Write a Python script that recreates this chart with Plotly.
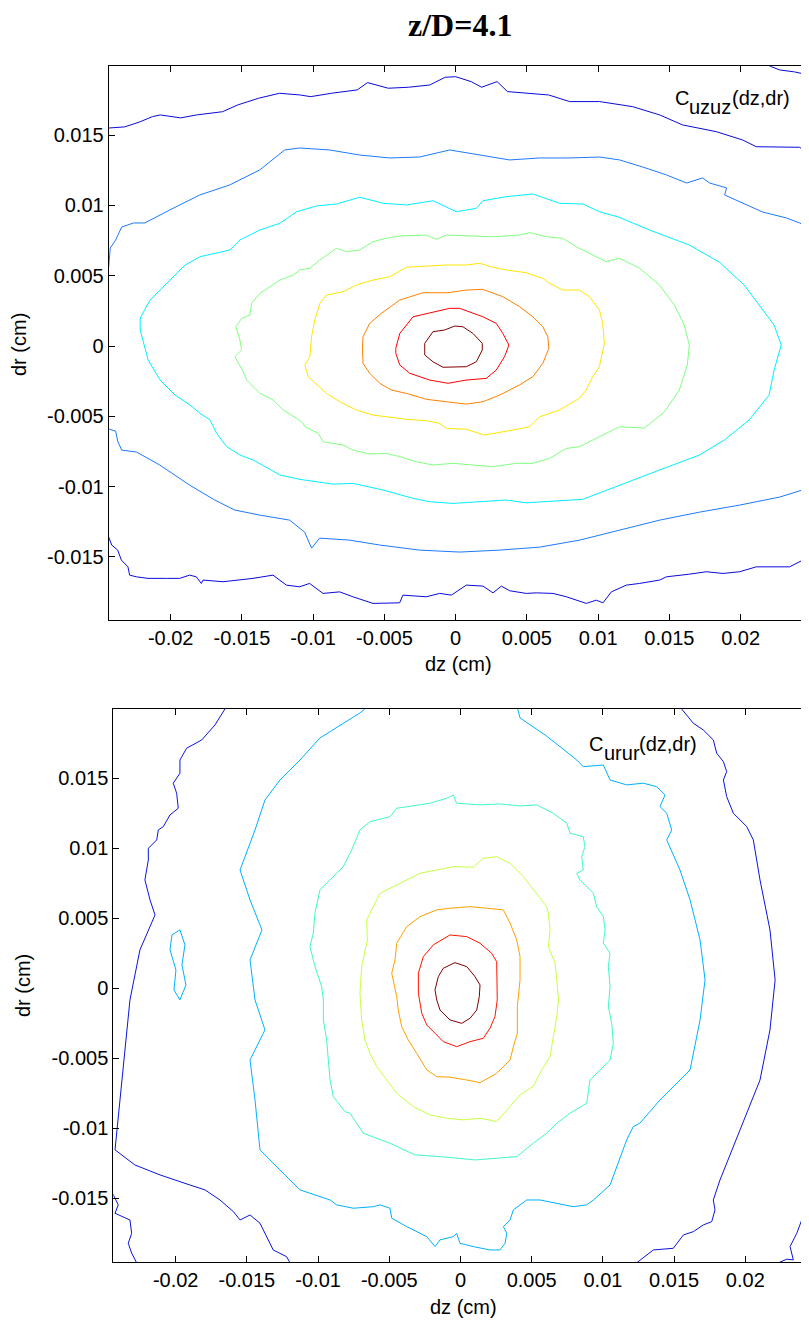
import plotly.graph_objects as go

# All contour coordinates are (dz, dr) in units of 1e-3 cm
UNIT = 1e-3

X_TICKS = [-0.02, -0.015, -0.01, -0.005, 0, 0.005, 0.01, 0.015, 0.02]
X_TICKTEXT = ["-0.02", "-0.015", "-0.01", "-0.005", "0", "0.005", "0.01", "0.015", "0.02"]
Y_TICKS = [-0.015, -0.01, -0.005, 0, 0.005, 0.01, 0.015]
Y_TICKTEXT = ["-0.015", "-0.01", "-0.005", "0", "0.005", "0.01", "0.015"]

# ---------------- C_uzuz (top panel) ----------------
UZ_L8 = [(-2.17, 0.19), (-1.59, 1.02), (-0.77, 1.14), (-0.07, 1.42), (0.51, 1.37), (1.21, 0.90), (1.87, 0.19),
         (1.87, -0.28), (1.45, -1.12), (0.75, -1.47), (-0.89, -1.51), (-1.59, -1.12), (-2.17, -0.64)]
UZ_L7 = [(-4.20, -0.16), (-3.92, 0.90), (-2.99, 2.08), (-1.82, 2.33), (-0.42, 2.68), (0.28, 2.68), (1.91, 2.08),
         (2.85, 1.61), (3.31, 0.90), (3.74, 0.07), (3.43, -0.76), (2.85, -1.71), (2.15, -2.30), (0.75, -2.42),
         (-0.54, -2.65), (-1.82, -2.42), (-3.22, -1.94), (-3.92, -1.35), (-4.20, -0.52)]
UZ_L6 = [(-6.54, -0.16), (-6.50, 0.66), (-6.03, 1.61), (-5.21, 2.33), (-3.92, 3.27), (-2.29, 3.79), (-0.54, 3.79),
         (0.75, 3.98), (1.91, 4.03), (3.31, 3.51), (4.48, 2.80), (5.42, 2.08), (6.12, 1.37), (6.47, 0.66),
         (6.54, -0.16), (6.12, -1.23), (5.42, -2.18), (4.48, -2.77), (3.08, -3.49), (1.91, -3.96), (0.75, -4.13),
         (-1.12, -3.89), (-2.05, -3.79), (-3.45, -3.37), (-4.51, -3.13), (-5.33, -2.65), (-6.03, -1.94), (-6.50, -1.23)]
UZ_L5 = [(-10.58, -1.35), (-10.23, -0.76), (-10.11, 0.66), (-9.88, 1.85), (-9.53, 3.04), (-9.06, 3.63), (-7.90, 3.86),
         (-6.96, 4.34), (-5.80, 4.69), (-4.63, 4.93), (-3.45, 5.60), (-2.05, 5.69), (-0.65, 5.76), (0.75, 5.76),
         (1.68, 5.88), (2.61, 5.60), (3.55, 5.41), (4.95, 5.21), (6.12, 4.81), (6.59, 4.46), (7.52, 3.98), (8.69, 3.98),
         (9.39, 3.51), (10.09, 2.56), (10.32, 1.61), (10.44, 0.19), (10.09, -1.47), (9.62, -2.18), (9.16, -3.13),
         (8.69, -3.72), (7.29, -4.55), (5.89, -5.03), (5.19, -5.74), (4.02, -5.97), (2.61, -6.21), (2.03, -6.33),
         (0.75, -5.92), (-0.65, -5.85), (-1.12, -5.50), (-2.05, -5.31), (-3.45, -5.21), (-4.39, -5.07), (-5.80, -4.91),
         (-6.96, -4.55), (-8.13, -3.96), (-9.06, -3.37), (-9.88, -2.65), (-10.35, -2.18)]
UZ_L4 = [(-15.49, -0.76), (-15.02, -0.28), (-15.14, 0.43), (-15.42, 1.37), (-15.02, 1.97), (-14.44, 2.20),
         (-14.32, 3.04), (-13.74, 3.75), (-13.03, 4.22), (-12.33, 4.69), (-11.40, 5.05), (-10.93, 5.41),
         (-10.23, 5.53), (-9.53, 6.12), (-8.36, 6.95), (-7.66, 6.71), (-6.73, 6.83), (-5.80, 7.42), (-4.86, 7.66),
         (-3.92, 7.82), (-2.05, 7.89), (-1.35, 7.59), (-0.65, 7.89), (0.75, 7.82), (2.61, 7.77), (3.55, 7.82),
         (4.48, 7.89), (5.19, 8.06), (6.36, 7.77), (7.52, 7.66), (8.46, 7.06), (9.39, 6.59), (10.56, 6.00),
         (11.49, 6.24), (12.89, 5.55), (14.30, 4.34), (15.35, 2.92), (16.05, 1.49), (16.40, 0.07), (16.26, -1.35),
         (15.70, -3.13), (14.65, -4.69), (13.24, -5.83), (11.49, -5.74), (9.86, -6.56), (8.69, -7.16), (7.76, -7.28),
         (6.59, -7.99), (5.42, -8.34), (4.25, -8.34), (2.61, -8.58), (1.21, -8.46), (-0.19, -8.34), (-1.59, -8.46),
         (-2.75, -8.23), (-3.92, -7.87), (-4.86, -7.63), (-6.03, -7.68), (-7.20, -7.40), (-7.90, -7.04),
         (-9.30, -6.81), (-9.65, -6.21), (-10.58, -5.74), (-10.70, -5.50), (-11.16, -5.14), (-12.10, -4.55),
         (-12.80, -3.84), (-13.74, -3.37), (-14.20, -2.89), (-14.67, -2.42), (-14.91, -1.83)]
UZ_L3 = [(-22.14, 1.14), (-22.14, 1.99), (-21.44, 3.27), (-20.39, 4.34), (-18.99, 5.76), (-17.94, 6.35),
         (-15.84, 6.83), (-15.14, 7.54), (-13.74, 8.25), (-12.33, 8.73), (-11.16, 9.55), (-9.76, 9.96),
         (-8.36, 10.10), (-6.73, 10.58), (-5.09, 10.15), (-3.45, 10.03), (-1.59, 10.33), (0.05, 9.55), (1.45, 9.79),
         (1.91, 10.33), (3.55, 10.62), (5.42, 10.81), (7.29, 10.15), (8.92, 10.10), (10.09, 9.55), (11.49, 9.15),
         (13.60, 8.25), (16.40, 7.18), (18.50, 5.97), (20.25, 4.34), (21.30, 2.92), (22.35, 1.49), (22.85, 0.07),
         (22.35, -1.71), (22.00, -3.49), (20.60, -5.26), (18.85, -6.69), (17.10, -7.75), (14.30, -8.82),
         (11.49, -9.89), (10.09, -10.48), (8.92, -10.90), (7.29, -11.00), (4.95, -11.15), (3.55, -10.95),
         (1.21, -11.07), (-0.19, -11.19), (-1.82, -11.07), (-2.99, -10.83), (-5.09, -10.24), (-7.20, -9.77),
         (-8.60, -9.82), (-10.93, -9.48), (-12.33, -9.17), (-14.20, -8.11), (-15.14, -7.75), (-16.07, -7.16),
         (-16.77, -6.21), (-17.24, -5.26), (-17.94, -4.79), (-18.64, -4.20), (-19.69, -3.49), (-20.74, -2.42),
         (-21.58, -1.00)]
UZ_L2_TOP = [(-24.35, 5.62), (-24.24, 6.97), (-23.86, 7.54), (-23.44, 8.46), (-22.60, 8.75), (-21.82, 8.75),
             (-20.07, 9.67), (-17.96, 10.74), (-15.86, 11.45), (-13.75, 12.52), (-12.00, 13.94), (-10.95, 14.08),
             (-8.84, 13.94), (-6.74, 13.58), (-4.63, 13.37), (-2.53, 13.44), (-0.42, 13.94), (1.68, 13.58),
             (3.79, 13.23), (5.89, 13.37), (8.00, 13.37), (10.11, 13.44), (11.51, 13.23), (13.12, 12.73),
             (14.81, 12.16), (16.21, 11.59), (17.33, 11.95), (17.83, 11.59), (19.02, 11.24), (18.88, 10.74),
             (20.14, 10.17), (21.54, 9.53), (23.23, 9.10), (24.14, 8.75), (24.77, 8.39)]
UZ_L2_BOT = [(-24.35, -5.90), (-23.86, -6.05), (-23.72, -6.76), (-23.44, -7.40), (-22.39, -7.54), (-20.77, -8.46),
             (-18.67, -9.89), (-16.91, -10.95), (-15.51, -11.66), (-13.75, -12.02), (-11.65, -12.38),
             (-10.60, -13.23), (-10.11, -14.37), (-9.54, -13.66), (-7.44, -13.80), (-5.33, -14.15), (-2.53, -14.51),
             (0.28, -14.65), (3.09, -14.51), (5.89, -14.30), (8.70, -13.80), (11.51, -13.09), (14.32, -12.38),
             (17.12, -11.81), (19.93, -11.31), (22.74, -10.74), (24.77, -10.10)]
UZ_L1_TOP = [(-24.35, 15.50), (-23.23, 15.58), (-22.18, 15.93), (-21.28, 16.31), (-20.73, 16.43), (-19.30, 16.22),
             (-18.18, 16.43), (-16.36, 16.66), (-15.30, 17.14), (-13.82, 17.62), (-12.36, 17.97), (-10.91, 17.85),
             (-10.18, 17.73), (-8.73, 17.97), (-6.91, 18.21), (-6.18, 18.73), (-4.73, 18.33), (-3.30, 18.40),
             (-1.82, 18.56), (-0.73, 19.11), (0.00, 19.15), (1.09, 18.80), (1.82, 18.40), (2.91, 18.80),
             (3.64, 18.09), (5.09, 17.97), (6.53, 17.85), (8.00, 17.38), (10.11, 17.38), (12.42, 17.02),
             (14.32, 16.43), (15.93, 15.72), (18.29, 15.24), (20.14, 14.65), (21.10, 14.17), (24.14, 14.13),
             (24.77, 13.71)]
UZ_L1_CORNER = [(22.04, 19.91), (22.74, 19.63), (23.79, 19.49), (24.77, 19.27)]
UZ_L1_BOT = [(-24.35, -13.58), (-24.14, -14.15), (-23.72, -14.51), (-23.46, -15.22), (-23.00, -15.70),
             (-22.88, -16.29), (-22.41, -16.41), (-21.59, -16.52), (-20.30, -16.52), (-19.37, -16.52),
             (-18.67, -16.29), (-18.20, -16.41), (-17.85, -16.88), (-17.73, -16.64), (-16.33, -16.76),
             (-15.16, -16.64), (-14.22, -16.52), (-12.82, -16.29), (-11.88, -17.00), (-10.95, -17.12),
             (-10.25, -16.88), (-9.31, -17.59), (-8.14, -17.48), (-7.21, -17.83), (-5.80, -18.30), (-3.93, -18.26),
             (-3.70, -17.71), (-2.06, -17.83), (-1.12, -17.59), (-0.30, -17.71), (0.75, -17.00), (1.92, -17.07),
             (2.62, -17.55), (3.21, -17.07), (3.79, -17.40), (4.96, -17.59), (5.66, -17.55), (6.83, -17.59),
             (7.77, -17.83), (9.17, -18.30), (9.87, -18.07), (10.34, -18.26), (10.93, -17.48), (11.98, -17.00),
             (12.91, -16.88), (14.32, -16.64), (14.79, -16.41), (16.42, -16.22), (17.59, -16.05), (18.76, -16.17),
             (19.93, -16.05), (21.10, -15.70), (23.44, -15.70), (24.37, -15.22), (24.77, -14.94)]

# ---------------- C_urur (bottom panel) ----------------
UR_L7 = [(-0.39, 1.84), (0.44, 1.56), (1.02, 0.84), (1.37, 0.25), (1.32, -0.59), (1.14, -1.54), (0.67, -2.13),
         (0.08, -2.49), (-0.74, -2.25), (-1.44, -1.54), (-1.67, -0.82), (-1.79, -0.11), (-1.56, 0.84), (-1.21, 1.44)]
UR_L6 = [(-0.74, 3.82), (0.44, 3.70), (1.37, 3.23), (2.19, 2.51), (2.54, 1.91), (2.58, 0.61), (2.58, -0.82),
         (2.42, -2.01), (2.07, -2.84), (1.60, -3.56), (0.67, -3.80), (-0.27, -4.16), (-1.21, -3.80), (-1.79, -3.20),
         (-2.37, -2.61), (-2.72, -1.77), (-2.96, -0.34), (-2.96, 1.09), (-2.61, 2.27), (-1.91, 3.11)]
UR_L5 = [(-4.48, 3.23), (-3.78, 4.41), (-2.84, 5.13), (-1.67, 5.61), (-0.74, 5.73), (0.67, 5.84), (1.84, 5.73),
         (3.01, 5.61), (3.48, 4.66), (3.95, 3.46), (4.18, 2.27), (4.18, 0.61), (3.99, -1.30), (3.99, -3.20),
         (3.71, -4.16), (3.48, -5.11), (2.54, -6.06), (1.37, -6.73), (0.44, -6.54), (-0.74, -6.34), (-1.67, -6.30),
         (-2.37, -5.82), (-3.08, -4.63), (-3.67, -3.68), (-4.13, -2.73), (-4.37, -1.54), (-4.48, -0.59),
         (-4.72, 0.61), (-4.83, 1.09), (-4.60, 2.04)]
UR_L4 = [(-5.65, 6.80), (-4.72, 7.27), (-3.78, 7.75), (-2.84, 8.23), (-1.67, 8.46), (-0.51, 8.70), (0.90, 8.66),
         (1.60, 9.30), (2.54, 9.41), (3.48, 8.94), (4.41, 7.99), (5.11, 7.04), (6.05, 5.84), (6.17, 5.37),
         (6.29, 4.18), (6.17, 2.99), (6.64, 1.80), (6.76, 0.61), (6.88, -0.82), (6.76, -2.01), (6.52, -3.44),
         (6.29, -4.84), (5.58, -6.06), (5.11, -6.99), (4.18, -7.61), (3.24, -8.68), (2.54, -9.51), (1.37, -9.27),
         (0.20, -9.39), (-0.97, -9.27), (-2.14, -9.04), (-3.31, -8.44), (-4.48, -7.49), (-5.18, -6.54),
         (-5.88, -5.59), (-6.36, -4.63), (-6.71, -3.68), (-6.94, -2.25), (-7.06, -0.34), (-6.94, 1.56),
         (-6.54, 3.46), (-6.59, 4.89), (-6.12, 5.84)]
UR_L3 = [(-9.87, 7.04), (-8.93, 7.99), (-8.23, 8.70), (-7.64, 9.89), (-7.06, 11.32), (-6.36, 11.91), (-4.95, 12.27),
         (-4.48, 12.87), (-3.08, 13.11), (-2.14, 13.23), (-0.97, 13.59), (-0.51, 13.82), (-0.27, 13.23),
         (1.37, 13.11), (2.77, 13.18), (4.18, 13.04), (5.35, 13.11), (6.52, 12.51), (7.46, 11.80), (7.69, 11.09),
         (8.62, 10.84), (8.74, 10.13), (8.51, 9.41), (8.62, 8.46), (8.16, 8.23), (8.39, 7.75), (9.33, 6.80),
         (9.56, 5.84), (10.03, 5.13), (10.15, 4.18), (10.03, 3.23), (10.50, 2.51), (10.38, 1.56), (10.50, 0.13),
         (10.38, -1.30), (10.62, -2.49), (10.73, -3.91), (10.50, -5.11), (9.80, -5.82), (9.09, -6.54),
         (8.86, -8.20), (7.69, -8.91), (6.76, -9.63), (6.05, -10.34), (5.11, -11.06), (3.95, -12.01),
         (2.77, -12.11), (1.02, -12.25), (-1.09, -12.04), (-3.20, -11.89), (-4.95, -11.06), (-6.83, -10.34),
         (-7.29, -9.63), (-7.76, -8.91), (-8.11, -8.80), (-8.93, -7.73), (-9.16, -6.54), (-9.28, -4.87),
         (-9.40, -3.68), (-9.63, -2.25), (-9.63, -0.82), (-9.75, 0.13), (-10.22, 1.56), (-10.57, 2.99),
         (-10.34, 3.94), (-10.22, 5.37)]
UR_L2 = [(-14.43, 11.32), (-13.73, 13.46), (-12.68, 14.89), (-11.27, 16.32), (-9.87, 17.89), (-8.46, 18.82),
         (-7.06, 19.68), (-6.20, 20.40), (3.90, 20.40), (4.18, 19.32), (5.93, 18.11), (6.99, 17.27),
         (8.16, 16.32), (8.62, 15.84), (10.03, 15.96), (10.50, 14.89), (11.67, 14.54), (12.84, 14.66),
         (13.78, 14.41), (14.36, 13.82), (14.01, 12.99), (14.48, 12.51), (14.83, 11.32), (14.48, 10.61),
         (15.41, 8.46), (16.12, 6.32), (16.82, 3.46), (17.17, 0.61), (16.82, -2.25), (16.12, -5.82), (14.01, -7.96),
         (12.61, -9.61), (12.13, -9.87), (11.67, -10.82), (10.50, -14.04), (9.33, -15.11), (8.86, -15.46),
         (7.92, -15.59), (6.76, -15.34), (5.58, -15.11), (4.65, -15.11), (3.71, -15.82), (3.48, -16.54),
         (3.01, -17.01), (3.25, -17.49), (3.13, -18.20), (2.77, -18.68), (2.07, -18.68), (0.90, -18.44),
         (-0.04, -18.20), (-0.27, -17.49), (-0.51, -17.73), (-1.44, -17.96), (-1.79, -18.44), (-2.37, -17.73),
         (-3.78, -17.01), (-4.83, -16.41), (-4.95, -15.70), (-5.65, -15.46), (-6.12, -15.59), (-7.53, -15.70),
         (-8.69, -15.46), (-9.16, -15.11), (-11.27, -14.39), (-12.68, -12.96), (-14.08, -11.53), (-14.43, -7.96),
         (-14.78, -5.11), (-13.73, -2.96), (-14.43, -0.82), (-14.78, 2.04), (-13.94, 4.18), (-14.78, 6.32),
         (-15.48, 8.46)]
UR_L2_ISLAND = [(-20.26, 3.82), (-19.70, 4.18), (-19.35, 3.11), (-19.56, 1.68), (-19.28, 0.25), (-19.70, -0.82),
                (-20.12, -0.11), (-19.98, 1.32), (-20.40, 2.75)]
UR_L1_LEFT = [(-16.54, 19.96), (-17.24, 18.82), (-18.17, 17.75), (-19.23, 17.16), (-19.70, 16.32), (-19.70, 15.37),
              (-20.17, 14.66), (-19.93, 13.94), (-19.82, 12.87), (-20.40, 12.39), (-20.87, 11.56), (-21.22, 11.32),
              (-21.33, 10.61), (-21.92, 10.01), (-21.92, 9.18), (-22.16, 7.75), (-21.80, 6.32), (-21.45, 5.25),
              (-22.51, 2.75), (-23.21, -0.82), (-23.56, -4.39), (-23.91, -7.96), (-24.26, -11.53),
              (-22.86, -12.61), (-21.10, -13.32), (-19.00, -14.04), (-17.94, -14.39),
              (-16.89, -15.11), (-15.95, -15.94), (-15.48, -16.54), (-14.78, -16.18), (-14.08, -16.77),
              (-13.61, -17.73), (-13.15, -18.68), (-12.21, -19.16), (-11.97, -19.60)]
UR_L1_EDGE = [(-24.45, -14.60), (-24.03, -15.46), (-24.26, -16.06), (-23.21, -16.54), (-23.09, -17.49),
              (-23.33, -18.20), (-23.09, -18.91), (-22.74, -19.60)]
UR_L1_RIGHT = [(15.53, 19.96), (16.35, 18.94), (17.05, 18.46), (17.75, 17.75), (17.99, 16.80), (18.46, 16.20),
               (18.69, 15.49), (18.46, 14.89), (18.69, 13.70), (19.16, 12.51), (20.10, 11.56), (20.56, 10.61),
               (21.03, 7.75), (21.73, 4.18), (22.09, 0.61), (21.73, -2.96), (21.03, -6.54), (19.63, -10.11),
               (18.22, -13.68), (17.75, -15.11), (17.87, -15.82), (17.64, -16.66), (17.05, -16.89), (16.35, -17.37),
               (15.65, -17.61), (14.94, -18.56), (13.54, -18.68), (12.37, -19.60)]
UR_L1_LOWRIGHT = [(22.32, -19.60), (22.91, -19.34), (23.37, -19.39), (23.14, -18.44), (23.61, -17.49),
                  (23.96, -16.54), (24.07, -16.06), (24.47, -15.82)]

UZ_COLORS = ["#0a0adc", "#1e78ff", "#00f0ff", "#80ff80", "#ffe600", "#ff8000", "#ff0000", "#800000"]
UR_COLORS = ["#0a14dc", "#00b0ff", "#40f8c8", "#c8ff40", "#ffa000", "#ff1400", "#800000"]

UZ_SET = [
    (UZ_L1_TOP, 0, False), (UZ_L1_CORNER, 0, False), (UZ_L1_BOT, 0, False),
    (UZ_L2_TOP, 1, False), (UZ_L2_BOT, 1, False),
    (UZ_L3, 2, True), (UZ_L4, 3, True), (UZ_L5, 4, True), (UZ_L6, 5, True), (UZ_L7, 6, True), (UZ_L8, 7, True),
]
UR_SET = [
    (UR_L1_LEFT, 0, False), (UR_L1_EDGE, 0, False), (UR_L1_RIGHT, 0, False), (UR_L1_LOWRIGHT, 0, False),
    (UR_L2, 1, True), (UR_L2_ISLAND, 1, True), (UR_L3, 2, True), (UR_L4, 3, True), (UR_L5, 4, True),
    (UR_L6, 5, True), (UR_L7, 6, True),
]

fig = go.Figure()


def add_set(contours, colors, xa, ya):
    for pts, lvl, closed in contours:
        p = list(pts) + ([pts[0]] if closed else [])
        fig.add_trace(go.Scatter(
            x=[q[0] * UNIT for q in p], y=[q[1] * UNIT for q in p],
            mode="lines", line=dict(color=colors[lvl], width=1),
            xaxis=xa, yaxis=ya, hoverinfo="skip", showlegend=False))


add_set(UZ_SET, UZ_COLORS, "x", "y")
add_set(UR_SET, UR_COLORS, "x2", "y2")

# The page body has an 8px margin; the figure fills the rest of the 809x1320 window.
OFF = 8
W, H = 809 - OFF, 1320 - OFF
TICKFONT = dict(family="Liberation Sans, Arial, sans-serif", size=20, color="black")


def px_x(v):
    return (v - OFF) / W


def px_y(v):
    return 1 - (v - OFF) / H


def xaxis_cfg(dom, anchor, rng):
    return dict(domain=dom, anchor=anchor, range=rng, tickvals=X_TICKS, ticktext=X_TICKTEXT,
                ticks="inside", ticklen=6, tickwidth=1, tickcolor="black", showline=True, linecolor="black",
                linewidth=1, mirror="ticks", showgrid=False, zeroline=False, tickfont=TICKFONT)


def yaxis_cfg(dom, anchor, rng):
    return dict(domain=dom, anchor=anchor, range=rng, tickvals=Y_TICKS, ticktext=Y_TICKTEXT,
                ticks="inside", ticklen=6, tickwidth=1, tickcolor="black", showline=True, linecolor="black",
                linewidth=1, showgrid=False, zeroline=False, tickfont=TICKFONT)


def yright_cfg(over, anchor, rng):
    return dict(overlaying=over, side="right", anchor=anchor, range=rng, tickvals=Y_TICKS,
                ticks="inside", ticklen=6, tickwidth=1, tickcolor="black", showline=False,
                showticklabels=False, showgrid=False, zeroline=False)


top_x_rng = [-0.02435, 0.0248]
top_y_rng = [-0.01948, 0.01991]
bot_x_rng = [-0.02438, 0.02447]
bot_y_rng = [-0.01954, 0.01996]

fig.update_layout(
    width=W, height=H, margin=dict(l=0, r=0, t=0, b=0),
    plot_bgcolor="white", paper_bgcolor="white", showlegend=False,
    xaxis=xaxis_cfg([px_x(108.7), 1], "y", top_x_rng),
    yaxis=yaxis_cfg([px_y(620), px_y(66)], "x", top_y_rng),
    yaxis3=yright_cfg("y", "x", top_y_rng),
    xaxis2=xaxis_cfg([px_x(113.3), 1], "y2", bot_x_rng),
    yaxis2=yaxis_cfg([px_y(1262), px_y(709)], "x2", bot_y_rng),
    yaxis4=yright_cfg("y2", "x2", bot_y_rng),
)

LABELFONT = dict(family="Liberation Sans, Arial, sans-serif", size=20, color="black")
ann = [
    dict(text="<b>z/D=4.1</b>", x=px_x(460), y=px_y(25.3),
         font=dict(family="Liberation Serif, Times New Roman, serif", size=32, color="black")),
    dict(text="dz (cm)", x=px_x(458.5), y=px_y(664), font=LABELFONT),
    dict(text="dz (cm)", x=px_x(463.3), y=px_y(1306.6), font=LABELFONT),
    dict(text="dr (cm)", x=px_x(19), y=px_y(345), textangle=-90, font=LABELFONT),
    dict(text="dr (cm)", x=px_x(23.6), y=px_y(985.5), textangle=-90, font=LABELFONT),
    # C_uzuz(dz,dr)
    dict(text="C", x=px_x(674), y=px_y(98.1), xanchor="left", font=LABELFONT),
    dict(text="uzuz", x=px_x(688.4), y=px_y(107.4), xanchor="left", font=LABELFONT),
    dict(text="(dz,dr)", x=px_x(730.6), y=px_y(98.1), xanchor="left", font=LABELFONT),
    # C_urur(dz,dr)
    dict(text="C", x=px_x(588.3), y=px_y(743.8), xanchor="left", font=LABELFONT),
    dict(text="urur", x=px_x(602.7), y=px_y(753.1), xanchor="left", font=LABELFONT),
    dict(text="(dz,dr)", x=px_x(638.3), y=px_y(743.8), xanchor="left", font=LABELFONT),
]
for a in ann:
    a.setdefault("xanchor", "center")
    a.update(xref="paper", yref="paper", yanchor="middle", showarrow=False, borderpad=0)
fig.update_layout(annotations=ann)

fig.write_html("out.html")
